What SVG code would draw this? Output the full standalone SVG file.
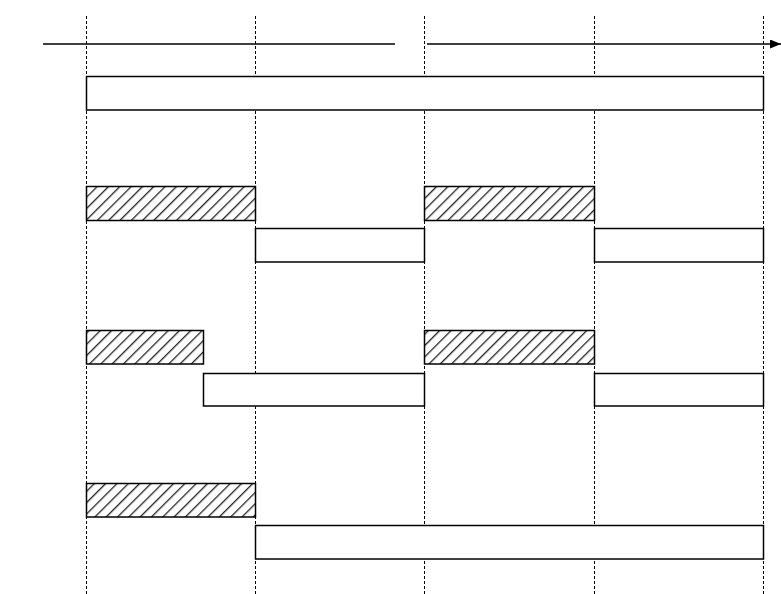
<svg xmlns="http://www.w3.org/2000/svg" width="781" height="594" viewBox="0 0 781 594">
<style>
.grid{stroke:#000;stroke-width:1;stroke-dasharray:3,2;fill:none}
.box{fill:#fff;stroke:#000;stroke-width:1.5}
.hatch{fill:url(#hp);stroke:#000;stroke-width:1.5}
.axis{stroke:#000;stroke-width:1.4;fill:none}
</style>
<defs>
<pattern id="hp" patternUnits="userSpaceOnUse" width="8" height="8" patternTransform="rotate(45)">
<rect width="8" height="8" fill="#fff"/>
<line x1="0" y1="0" x2="0" y2="8" stroke="#222" stroke-width="2.6"/>
</pattern>
<marker id="arr" markerWidth="12" markerHeight="10" refX="11" refY="4.5" orient="auto" markerUnits="userSpaceOnUse">
<path d="M0,0 L11,4.5 L0,9 Z" fill="#000"/>
</marker>
</defs>
<g id="grid">
<line class="grid" x1="86.5" y1="16" x2="86.5" y2="594"/>
<line class="grid" x1="255.5" y1="16" x2="255.5" y2="594"/>
<line class="grid" x1="424.5" y1="16" x2="424.5" y2="594"/>
<line class="grid" x1="594.5" y1="16" x2="594.5" y2="594"/>
<line class="grid" x1="763.5" y1="16" x2="763.5" y2="594"/>
</g>
<g id="connectors">
<line class="axis" x1="43" y1="44" x2="395" y2="44"/>
<line class="axis" x1="427" y1="44" x2="781" y2="44" marker-end="url(#arr)"/>
</g>
<g id="bar-top"><rect class="box" x="86.5" y="76.5" width="677" height="33.5"/></g>
<g id="h1a"><rect class="hatch" x="86.5" y="186.5" width="169" height="34"/></g>
<g id="h1b"><rect class="hatch" x="424.5" y="186.5" width="170" height="34"/></g>
<g id="w1a"><rect class="box" x="255.5" y="228.5" width="169" height="33.5"/></g>
<g id="w1b"><rect class="box" x="594.5" y="228.5" width="169" height="33.5"/></g>
<g id="h2a"><rect class="hatch" x="86.5" y="330.5" width="117" height="33.5"/></g>
<g id="h2b"><rect class="hatch" x="424.5" y="330.5" width="170" height="33.5"/></g>
<g id="w2a"><rect class="box" x="203.5" y="373.5" width="221" height="32.5"/></g>
<g id="w2b"><rect class="box" x="594.5" y="373.5" width="169" height="32.5"/></g>
<g id="h3a"><rect class="hatch" x="86.5" y="483.5" width="169" height="33.5"/></g>
<g id="w3a"><rect class="box" x="255.5" y="525.5" width="508" height="33.5"/></g>
</svg>
